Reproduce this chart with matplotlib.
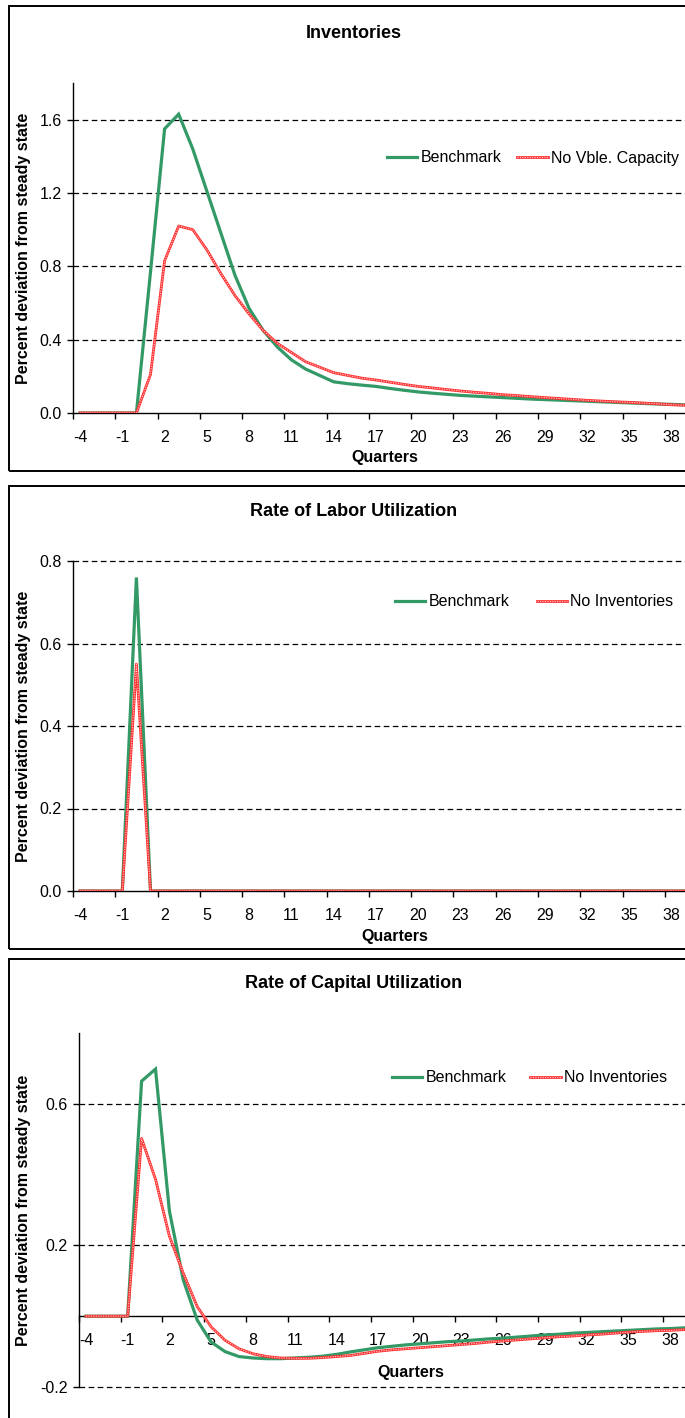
import matplotlib
matplotlib.use("Agg")
import matplotlib.pyplot as plt
from matplotlib.lines import Line2D
from matplotlib.patches import Rectangle
from matplotlib.ticker import FixedLocator, FormatStrFormatter

plt.rcParams["font.family"] = ["Liberation Sans", "DejaVu Sans"]

W, H, DPI = 685, 1418, 100

# ---------------- data ----------------
quarters = list(range(-4, 40))
tick_quarters = list(range(-4, 39, 3))

inv_benchmark = [0.0, 0.0, 0.0, 0.0, 0.0,
                 0.77, 1.55, 1.63, 1.44, 1.21, 0.98, 0.75, 0.57, 0.45, 0.36,
                 0.29, 0.24, 0.205, 0.17, 0.16, 0.152, 0.145, 0.134, 0.124, 0.115,
                 0.108, 0.102, 0.096, 0.092, 0.088, 0.084, 0.080, 0.076, 0.073, 0.070,
                 0.067, 0.064, 0.061, 0.058, 0.055, 0.052, 0.049, 0.047, 0.044]
inv_no_capacity = [0.0, 0.0, 0.0, 0.0, 0.0,
                   0.21, 0.83, 1.02, 1.00, 0.89, 0.76, 0.64, 0.54, 0.45, 0.38,
                   0.33, 0.28, 0.25, 0.22, 0.205, 0.19, 0.18, 0.168, 0.156, 0.145,
                   0.137, 0.128, 0.12, 0.113, 0.107, 0.10, 0.095, 0.089, 0.084, 0.079,
                   0.074, 0.069, 0.065, 0.061, 0.058, 0.054, 0.05, 0.045, 0.042]

labor_benchmark = [0.0, 0.0, 0.0, 0.0, 0.76] + [0.0] * 39
labor_no_inventories = [0.0, 0.0, 0.0, 0.0, 0.55] + [0.0] * 39

capital_benchmark = [0.0, 0.0, 0.0, 0.0,
                     0.664, 0.698, 0.297, 0.102, -0.011, -0.073, -0.10, -0.114, -0.118, -0.12,
                     -0.12, -0.118, -0.116, -0.113, -0.108, -0.101, -0.095, -0.089, -0.085, -0.081,
                     -0.078, -0.075, -0.072, -0.070, -0.067, -0.064, -0.062, -0.059, -0.056, -0.053,
                     -0.051, -0.048, -0.046, -0.044, -0.042, -0.040, -0.038, -0.036, -0.035, -0.033]
capital_no_inventories = [0.0, 0.0, 0.0, 0.0,
                          0.502, 0.387, 0.226, 0.121, 0.027, -0.030, -0.068, -0.092, -0.106, -0.114,
                          -0.118, -0.119, -0.119, -0.117, -0.114, -0.111, -0.105, -0.099, -0.095, -0.092,
                          -0.089, -0.086, -0.083, -0.080, -0.077, -0.073, -0.070, -0.067, -0.064, -0.061,
                          -0.058, -0.056, -0.053, -0.051, -0.048, -0.045, -0.043, -0.041, -0.040, -0.038]

GREEN = "#339966"
RED = "#ff3030"
PINK = "#ffd0d0"
FS = 11.5

fig = plt.figure(figsize=(W / DPI, H / DPI), dpi=DPI)


def fx(px):
    return px / W


def fy(py):
    return 1 - py / H


def add_axes(left, top, bottom, right):
    return fig.add_axes([fx(left), fy(bottom), fx(right - left), (bottom - top) / H])


def panel_frame(top, bottom):
    fig.add_artist(Rectangle((fx(9), fy(bottom)), fx(720), (bottom - top) / H,
                             transform=fig.transFigure, fill=False,
                             edgecolor="black", lw=1.4, zorder=0))


def style_axes(ax, ylim, yticks, grid):
    ax.set_xlim(-4.5, 39.5)
    ax.set_ylim(*ylim)
    for s in ("top", "right"):
        ax.spines[s].set_visible(False)
    for s in ("left", "bottom"):
        ax.spines[s].set_linewidth(1.0)
        ax.spines[s].set_zorder(2)
    for g in grid:
        ax.axhline(g, color="black", lw=0.9, ls=(0, (4.5, 2.8)), zorder=1, clip_on=False)
    ax.xaxis.set_major_locator(FixedLocator(tick_quarters))
    ax.xaxis.set_minor_locator(FixedLocator([t - 0.5 for t in tick_quarters]))
    ax.set_xticklabels([str(t) for t in tick_quarters])
    ax.tick_params(axis="x", which="major", length=0, pad=12, labelsize=FS)
    ax.tick_params(axis="x", which="minor", length=4, width=1.0, direction="out")
    ax.yaxis.set_major_locator(FixedLocator(yticks))
    ax.yaxis.set_major_formatter(FormatStrFormatter("%.1f"))
    ax.tick_params(axis="y", length=4, width=1.0, pad=4, labelsize=FS)


def draw_series(ax, bench, alt):
    ax.plot(quarters, bench, color=GREEN, lw=2.3, zorder=3, solid_joinstyle="miter")
    ax.plot(quarters, alt, color=RED, lw=2.0, zorder=4)
    ax.plot(quarters, alt, color=PINK, lw=0.8, ls=(0, (1, 1.2)), zorder=5)


def add_legend(x, y, alt_label, colspace):
    h_bench = Line2D([], [], color=GREEN, lw=2.3)
    h_alt = (Line2D([], [], color=RED, lw=2.0),
             Line2D([], [], color=PINK, lw=0.8, ls=(0, (1, 1.2))))
    fig.legend([h_bench, h_alt], ["Benchmark", alt_label], loc="center left",
               bbox_to_anchor=(fx(x), fy(y)), bbox_transform=fig.transFigure,
               ncol=2, frameon=False, fontsize=FS, borderpad=0, borderaxespad=0,
               handlelength=1.9, handletextpad=0.2, columnspacing=colspace)


def add_texts(title, title_y, q_x, q_y, ax_top, ax_bottom):
    fig.text(fx(354), fy(title_y), title, ha="center", va="center",
             fontsize=13, fontweight="bold")
    fig.text(fx(q_x), fy(q_y), "Quarters", ha="center", va="center",
             fontsize=FS, fontweight="bold")
    fig.text(fx(24), fy((ax_top + ax_bottom) / 2), "Percent deviation from steady state",
             rotation=90, ha="center", va="center", fontsize=FS, fontweight="bold")


# ---------------- Inventories ----------------
panel_frame(6, 471)
ax1 = add_axes(73, 83, 413, 693)
style_axes(ax1, (0, 1.8), [0.0, 0.4, 0.8, 1.2, 1.6], [0.4, 0.8, 1.2, 1.6])
draw_series(ax1, inv_benchmark, inv_no_capacity)
add_legend(387, 158, "No Vble. Capacity", 1.0)
add_texts("Inventories", 33, 385, 458, 83, 413)

# ---------------- Labor utilization ----------------
panel_frame(486, 949)
ax2 = add_axes(73, 561, 891, 693)
style_axes(ax2, (0, 0.8), [0.0, 0.2, 0.4, 0.6, 0.8], [0.2, 0.4, 0.6, 0.8])
draw_series(ax2, labor_benchmark, labor_no_inventories)
add_legend(395, 602, "No Inventories", 1.7)
add_texts("Rate of Labor Utilization", 511, 395, 937, 561, 891)

# ---------------- Capital utilization ----------------
panel_frame(959, 1440)
ax3 = add_axes(79, 1033, 1387, 691)
style_axes(ax3, (-0.2, 0.8), [-0.2, 0.2, 0.6], [-0.2, 0.2, 0.6])
ax3.spines["bottom"].set_position(("data", 0))
draw_series(ax3, capital_benchmark, capital_no_inventories)
add_legend(392, 1078, "No Inventories", 1.5)
add_texts("Rate of Capital Utilization", 983, 411, 1372, 1033, 1387)

fig.savefig("out.png", dpi=DPI)
